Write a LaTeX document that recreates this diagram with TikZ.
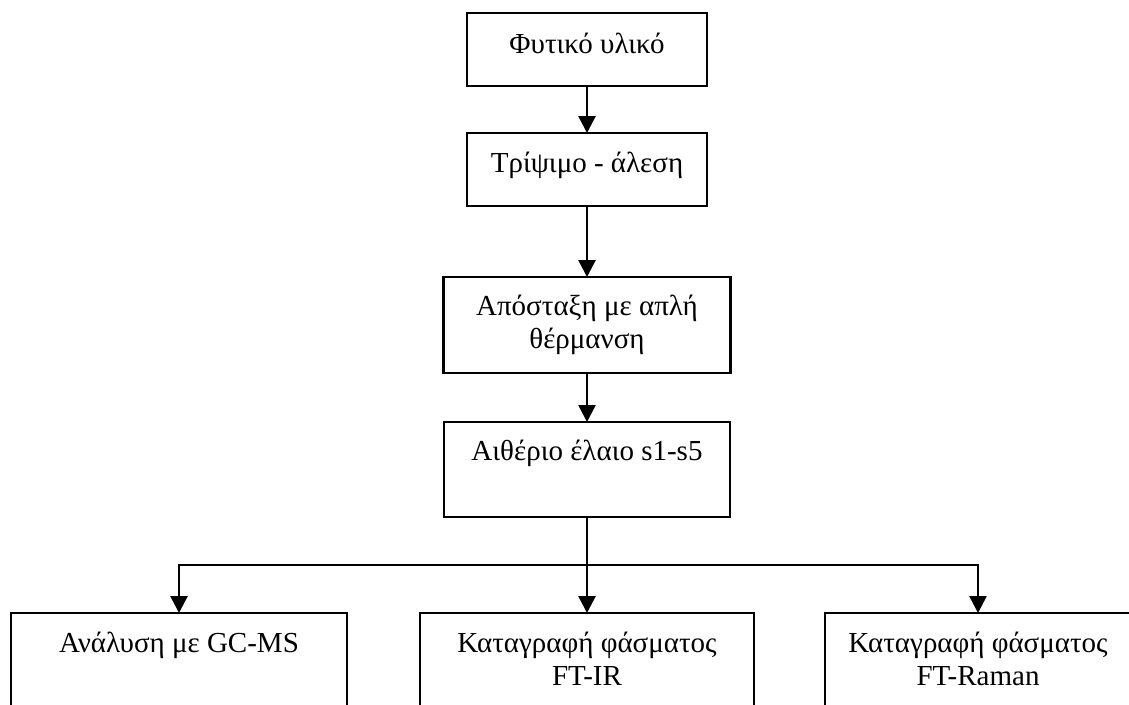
\documentclass[tikz,border=0pt]{standalone}
\usepackage{fontspec}
\setmainfont{Liberation Serif}
\usetikzlibrary{arrows.meta}

\tikzset{
  stepbox/.style={draw, line width=2.6pt, rectangle, inner sep=0pt, outer sep=0pt},
  label/.style={font=\fontsize{29}{33}\selectfont, inner sep=0pt, anchor=base, align=center},
  link/.style={line width=2.6pt},
  arr/.style={link, -{Triangle[width=17pt,length=17pt]}}
}

\begin{document}
\begin{tikzpicture}[x=1pt, y=-1pt]
  \useasboundingbox (0,0) rectangle (1129,704);

  % boxes of the process chain
  \node[stepbox, minimum width=240pt, minimum height=73pt] (b1) at (587,49.5) {};
  \node[stepbox, minimum width=240pt, minimum height=73pt] (b2) at (587,169.5) {};
  \node[stepbox, minimum width=287pt, minimum height=96pt] (b3) at (587,325) {};
  \node[stepbox, minimum width=286pt, minimum height=95pt] (b4) at (587,469.5) {};
  \node[stepbox, minimum width=336pt, minimum height=130pt] (b5) at (179,678) {};
  \node[stepbox, minimum width=334pt, minimum height=130pt] (b6) at (587,678) {};
  \node[stepbox, minimum width=306pt, minimum height=130pt] (b7) at (978,678) {};

  % box texts (the base anchor of a two-line text sits on its last line)
  \node[label] (t1) at (587,53) {Φυτικό υλικό};
  \node[label] (t2) at (587,172) {Τρίψιμο - άλεση};
  \node[label] (t3) at (587,348) {Απόσταξη με απλή\\θέρμανση};
  \node[label] (t4) at (587,460) {Αιθέριο έλαιο s1-s5};
  \node[label] (t5) at (179,652) {Ανάλυση με GC-MS};
  \node[label] (t6) at (587,685) {Καταγραφή φάσματος\\FT-IR};
  \node[label] (t7) at (978,685) {Καταγραφή φάσματος\\FT-Raman};

  % connectors
  \draw[arr] (b1.south) -- (b2.north);
  \draw[arr] (b2.south) -- (b3.north);
  \draw[arr] (b3.south) -- (b4.north);
  \coordinate (split) at (587,565);
  \draw[arr] (b4.south) -- (b6.north);
  \draw[arr] (split) -| (b5.north);
  \draw[arr] (split) -| (b7.north);
\end{tikzpicture}
\end{document}
